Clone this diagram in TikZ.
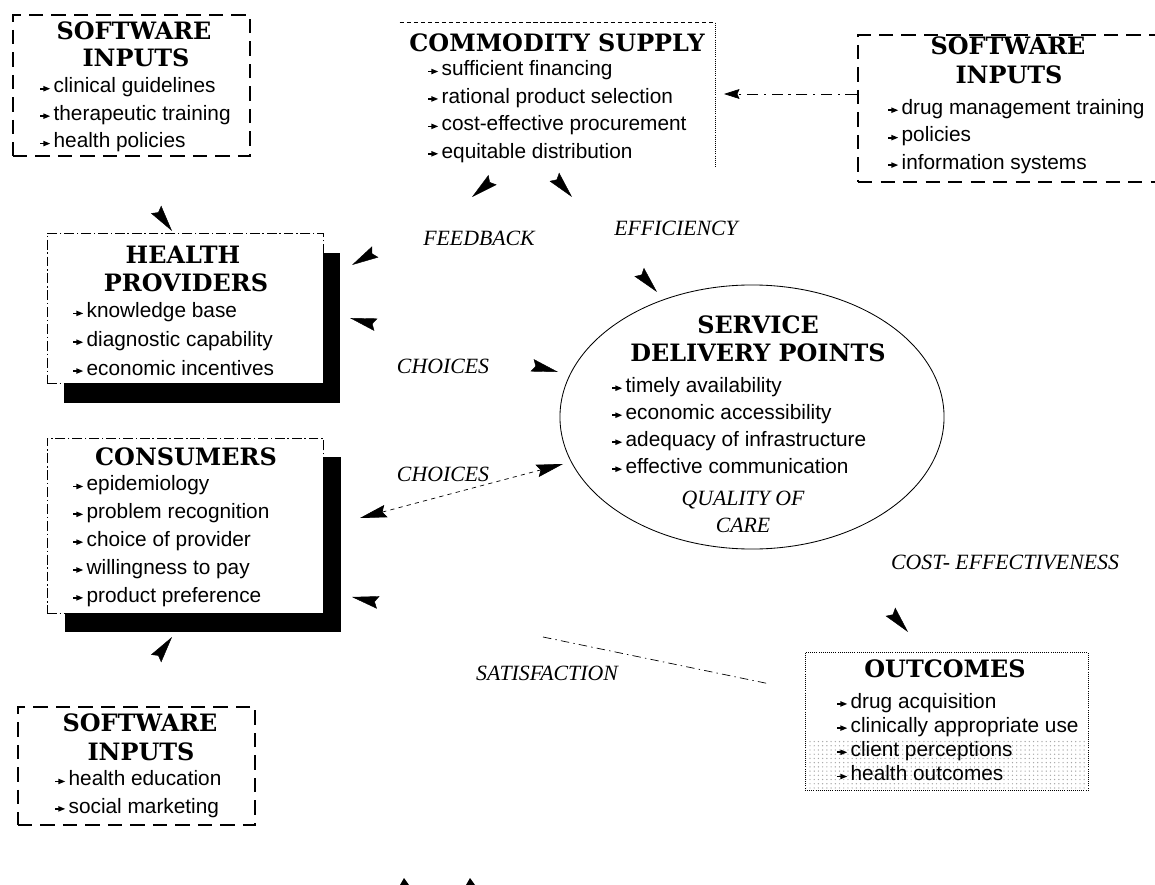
\documentclass[tikz,border=0pt]{standalone}
\usepackage{fontspec}
\setmainfont{Liberation Serif}
\setsansfont{Liberation Sans}
\newfontfamily\hfont{DejaVu Serif}
\usetikzlibrary{arrows.meta,shapes.geometric,patterns,fit}
\pgfdeclarelayer{background}
\pgfsetlayers{background,main}
\newcommand\bl{\tikz[x=1pt,y=1pt,baseline=0pt]{\fill (0,2.4) rectangle (3.4,3.6);\fill (2.2,1.0) -- (7.0,3.0) -- (2.2,5.0) -- cycle;}\hspace{2.5pt}}
\tikzset{
  dart/.tip={Stealth[length=19pt,width=9pt,inset=2.5pt,color=black]},
  smalldart/.tip={Stealth[length=11pt,width=7pt,inset=1.5pt,color=black]},
  hd/.style={font=\hfont\bfseries\fontsize{17}{18}\selectfont, inner sep=0pt},
  itemlist/.style={font=\sffamily\fontsize{14.8}{19.5}\selectfont, align=left, inner sep=0pt, anchor=west},
  lbl/.style={font=\itshape\fontsize{15.5}{19}\selectfont, inner sep=0pt},
  sibox/.style={draw, line width=2pt, dash pattern=on 10pt off 6pt, inner sep=0pt},
  thinbox/.style={draw, fill=white, line width=0.5pt, dash pattern=on 7pt off 2pt on 1pt off 2pt, inner sep=0pt},
  shadowbox/.style={fill=black, inner sep=0pt},
  ghost/.style={draw=white, line width=0.3pt},
  visline/.style={draw=black, line width=0.5pt},
}
\begin{document}
\begin{tikzpicture}[x=0.025cm, y=-0.025cm]
\useasboundingbox (0,0) rectangle (1155,885);
\begin{pgfonlayer}{background}
\fill[white] (0,0) rectangle (1155,885);
\end{pgfonlayer}

% ---------- software inputs (top left)
\node[sibox, fit={(13,15)(250,156)}] (si1) {};
\node[hd] (si1h) at (134,31) {SOFTWARE};
\node[hd] (si1g) at (136,58) {INPUTS};
\node[itemlist] (si1i) at (40,115) {\bl clinical guidelines\\\bl therapeutic training\\\bl health policies};

% ---------- commodity supply
\node[fit={(400,23)(715,167)}, inner sep=0pt] (cs) {};
\draw[line width=0.6pt, densely dashed] (cs.north west) -- (cs.north east);
\draw[line width=0.5pt, densely dotted] (cs.north east) -- (cs.south east);
\node[hd] (csh) at (557,43) {COMMODITY SUPPLY};
\node[itemlist] (csi) at (428,111.5) {\bl sufficient financing\\\bl rational product selection\\\bl cost-effective procurement\\\bl equitable distribution};

% ---------- software inputs (top right)
\node[sibox, fit={(858,35)(1162,182)}] (si2) {};
\node[hd] (si2h) at (1008,46) {SOFTWARE};
\node[hd] (si2g) at (1009,75) {INPUTS};
\node[itemlist] (si2i) at (888,136.5) {\bl drug management training\\\bl policies\\\bl information systems};

% ---------- health providers
\node[shadowbox, fit={(64,253)(340,403)}] (hps) {};
\node[thinbox, fit={(47,233)(323,383)}] (hp) {};
\node[hd] (hph) at (183,255) {HEALTH};
\node[hd] (hpg) at (186,283) {PROVIDERS};
\node[itemlist, font=\sffamily\fontsize{14.8}{20.5}\selectfont] (hpi) at (73,339) {\bl knowledge base\\\bl diagnostic capability\\\bl economic incentives};

% ---------- consumers
\node[shadowbox, fit={(65,457)(341,632)}] (cos) {};
\node[thinbox, fit={(47,438)(323,613)}] (co) {};
\node[hd] (coh) at (186,457) {CONSUMERS};
\node[itemlist, font=\sffamily\fontsize{14.8}{19.8}\selectfont] (coi) at (73,541) {\bl epidemiology\\\bl problem recognition\\\bl choice of provider\\\bl willingness to pay\\\bl product preference};

% ---------- software inputs (bottom left)
\node[sibox, fit={(18,707)(255,825)}] (si3) {};
\node[hd] (si3h) at (140,723) {SOFTWARE};
\node[hd] (si3g) at (141,752) {INPUTS};
\node[itemlist] (si3i) at (55,794) {\bl health education\\\bl social marketing};

% ---------- service delivery points
\node[draw, ellipse, line width=0.6pt, minimum width=9.6cm, minimum height=6.6cm, inner sep=0pt] (sdp) at (752,417) {};
\node[hd] (sdph) at (758,325) {SERVICE};
\node[hd] (sdpg) at (758,353) {DELIVERY POINTS};
\node[itemlist, font=\sffamily\fontsize{14.8}{19.2}\selectfont] (sdpi) at (612,425.5) {\bl timely availability\\\bl economic accessibility\\\bl adequacy of infrastructure\\\bl effective communication};
\node[lbl, align=center] (qoc) at (743,512) {QUALITY OF\\CARE};

% ---------- outcomes
\node[fit={(805,652)(1088,790)}, inner sep=0pt, draw, densely dotted, line width=0.5pt] (out) {};
\fill[pattern=dots, pattern color=gray!70] (806,740) rectangle (1087,789);
\node[hd] (outh) at (945,669) {OUTCOMES};
\node[itemlist, font=\sffamily\fontsize{14.8}{17.2}\selectfont] (outi) at (837,737) {\bl drug acquisition\\\bl clinically appropriate use\\\bl client perceptions\\\bl health outcomes};

% ---------- labels
\node[lbl] (lfb) at (479,238) {FEEDBACK};
\node[lbl] (lef) at (676,228) {EFFICIENCY};
\node[lbl] (lch1) at (443,366) {CHOICES};
\node[lbl] (lch2) at (443,474) {CHOICES};
\node[lbl] (lsat) at (547,673) {SATISFACTION};
\node[lbl] (lce) at (1005,562) {COST- EFFECTIVENESS};

% ---------- connector end points
\coordinate (p1s) at (118,158);  \coordinate (p1t) at (172,231);
\coordinate (p2s) at (502,172);  \coordinate (p2m) at (472,197); \coordinate (p2t) at (352,265);
\coordinate (p3s) at (550,172);  \coordinate (p3m) at (572,197); \coordinate (p3t) at (657,292);
\coordinate (p4a) at (350,318);  \coordinate (p4b) at (558,372);
\coordinate (p5a) at (360,518);  \coordinate (p5b) at (563,464);
\coordinate (p6s) at (770,684);  \coordinate (p6m) at (543,637); \coordinate (p6t) at (352,597);
\coordinate (p7s) at (835,548);  \coordinate (p7t) at (908,632);
\coordinate (p8s) at (121,706);  \coordinate (p8t) at (172,637);
\coordinate (p9t) at (724,94);

\begin{pgfonlayer}{background}
\draw[ghost, -{dart}] (p1s) -- (p1t);
\draw[ghost, -{dart}] (p2s) -- (p2m);
\draw[ghost, -{dart}] (p2m) -- (p2t);
\draw[ghost, -{dart}] (p3s) -- (p3m);
\draw[ghost, -{dart}] (p3m) -- (p3t);
\draw[ghost, {dart}-{dart}] (p4a) -- (p4b);
\draw[ghost, -{dart}] (p6s) -- (p6t);
\draw[ghost, -{dart}] (p7s) -- (p7t);
\draw[ghost, -{dart}] (p8s) -- (p8t);
\end{pgfonlayer}
\draw[visline, dashed, {dart}-{dart}] (p5a) -- (p5b);
\draw[visline, dash pattern=on 6pt off 3pt on 1pt off 3pt] (p6m) -- (p6s);
\draw[visline, dash pattern=on 8pt off 4pt on 1.5pt off 4pt, -{smalldart}] (si2.west |- p9t) -- (p9t);

% ---------- fragments at the bottom edge
\fill (400,885) -- (404,878) -- (409,885) -- cycle;
\fill (466,885) -- (470,878) -- (475,885) -- cycle;
\end{tikzpicture}
\end{document}
